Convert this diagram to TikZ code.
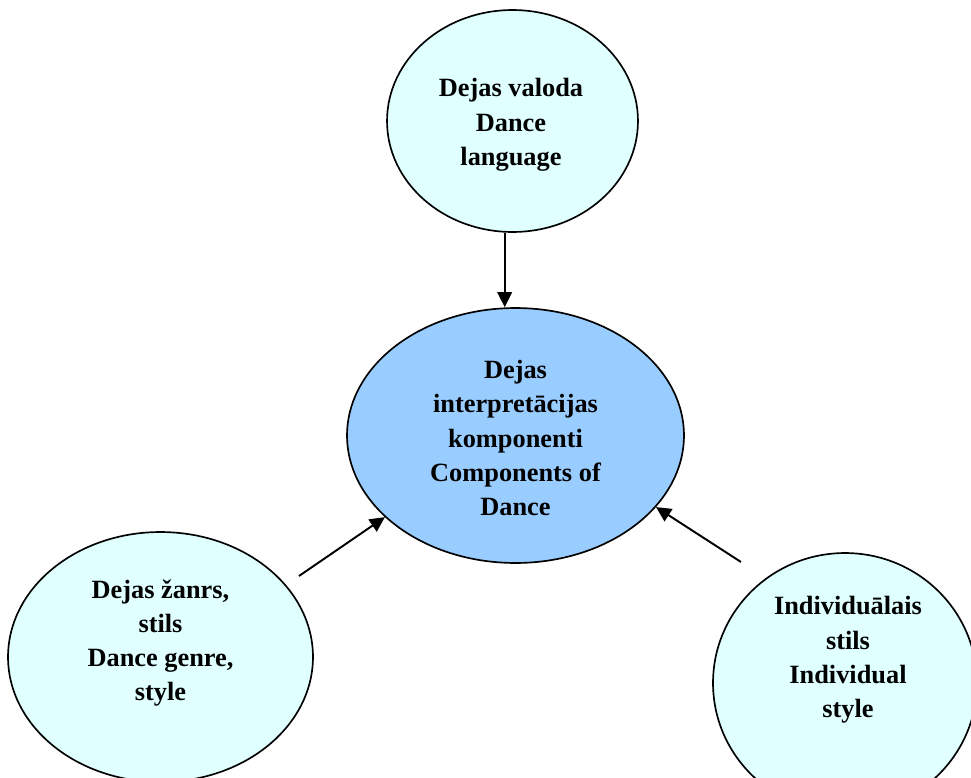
\documentclass[tikz,border=0pt]{standalone}
\usepackage{fontspec}
\setmainfont{Liberation Serif}
\usepackage{tikz}
\usetikzlibrary{arrows.meta, shapes.geometric, positioning}
\definecolor{bubble}{RGB}{224,255,255}
\definecolor{core}{RGB}{153,204,255}

\begin{document}
\begin{tikzpicture}[x=0.02cm, y=-0.02cm,
    oval/.style={ellipse, draw=black, line width=0.95pt, inner sep=0pt},
    txt/.style={align=center, font=\fontsize{15}{19.5}\selectfont\bfseries},
    arr/.style={-{Triangle[length=0.3cm, width=0.29cm]}, line width=1.1pt}]
    % Page frame
    \useasboundingbox (0,0) rectangle (971,778);
    \clip (0,0) rectangle (971,778);

    % Top ellipse
    \node[oval, fill=bubble, minimum width=5.02cm, minimum height=4.44cm] (top) at (512.5,121) {};
    \node[txt] (topT) at (511,125) {Dejas valoda\\Dance\\language};

    % Central ellipse
    \node[oval, fill=core, minimum width=6.74cm, minimum height=5.1cm] (ctr) at (515.5,435.5) {};
    \node[txt] (ctrT) at (515.5,438) {Dejas\\interpretācijas\\komponenti\\Components of\\Dance};

    % Bottom left ellipse
    \node[oval, fill=bubble, minimum width=6.1cm, minimum height=5cm] (lft) at (160.5,657) {};
    \node[txt] (lftT) at (160.5,643) {Dejas žanrs,\\stils\\Dance genre,\\style};

    % Bottom right ellipse
    \node[oval, fill=bubble, minimum width=5.28cm, minimum height=5.2cm] (rgt) at (845,683) {};
    \node[txt] (rgtT) at (848,660) {Individuālais\\stils\\Individual\\style};

    % Arrows
    \coordinate (lftA) at (299,576);
    \coordinate (rgtA) at (741,562);
    \draw[arr] (top.-94) -- (top.-94 |- ctr.north);
    \draw[arr] (lftA) -- (ctr.212);
    \draw[arr] (rgtA) -- (ctr.-27);
\end{tikzpicture}
\end{document}
